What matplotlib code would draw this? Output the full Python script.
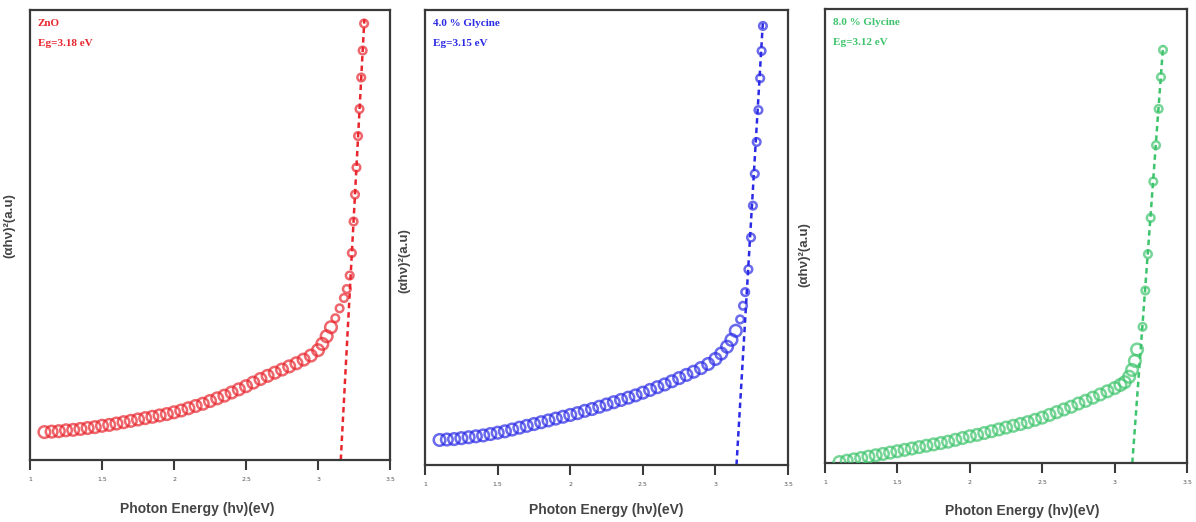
import matplotlib
matplotlib.use("Agg")
import matplotlib.pyplot as plt

# photon energy (eV) and (alpha h nu)^2 in arbitrary units (0..1 of the axis)
znO_x = [1.10, 1.15, 1.20, 1.25, 1.30, 1.35, 1.40, 1.45, 1.50, 1.55, 1.60, 1.65, 1.70,
         1.75, 1.80, 1.85, 1.90, 1.95, 2.00, 2.05, 2.10, 2.15, 2.20, 2.25, 2.30, 2.35,
         2.40, 2.45, 2.50, 2.55, 2.60, 2.65, 2.70, 2.75, 2.80, 2.85, 2.90, 2.95, 3.00,
         3.03, 3.06, 3.09, 3.12, 3.15, 3.18, 3.20, 3.22, 3.235, 3.247, 3.257, 3.267,
         3.278, 3.288, 3.30, 3.31, 3.32]
znO_y = [0.062, 0.063, 0.064, 0.066, 0.067, 0.069, 0.071, 0.073, 0.076, 0.078, 0.081,
         0.084, 0.087, 0.090, 0.093, 0.096, 0.099, 0.102, 0.106, 0.110, 0.115, 0.120,
         0.125, 0.131, 0.137, 0.143, 0.150, 0.157, 0.164, 0.172, 0.180, 0.187, 0.194,
         0.201, 0.208, 0.215, 0.223, 0.232, 0.244, 0.258, 0.275, 0.295, 0.315, 0.337,
         0.360, 0.380, 0.410, 0.460, 0.530, 0.590, 0.650, 0.720, 0.780, 0.850, 0.910,
         0.970]
znO_fit_x = [3.158, 3.322]
znO_fit_y = [0.0, 0.98]

gly4_x = [1.10, 1.15, 1.20, 1.25, 1.30, 1.35, 1.40, 1.45, 1.50, 1.55, 1.60, 1.65, 1.70,
          1.75, 1.80, 1.85, 1.90, 1.95, 2.00, 2.05, 2.10, 2.15, 2.20, 2.25, 2.30, 2.35,
          2.40, 2.45, 2.50, 2.55, 2.60, 2.65, 2.70, 2.75, 2.80, 2.85, 2.90, 2.95, 3.00,
          3.04, 3.08, 3.11, 3.14, 3.17, 3.19, 3.205, 3.227, 3.245, 3.258, 3.271, 3.284,
          3.296, 3.308, 3.318, 3.327]
gly4_y = [0.055, 0.056, 0.057, 0.059, 0.061, 0.063, 0.065, 0.068, 0.071, 0.074, 0.078,
          0.082, 0.086, 0.090, 0.094, 0.098, 0.102, 0.106, 0.110, 0.114, 0.119, 0.123,
          0.128, 0.133, 0.138, 0.143, 0.148, 0.153, 0.159, 0.165, 0.171, 0.177, 0.184,
          0.191, 0.198, 0.205, 0.213, 0.222, 0.233, 0.245, 0.260, 0.275, 0.295, 0.320,
          0.350, 0.380, 0.430, 0.500, 0.570, 0.640, 0.710, 0.780, 0.850, 0.910, 0.965]
gly4_fit_x = [3.145, 3.327]
gly4_fit_y = [0.0, 0.975]

gly8_x = [1.10, 1.15, 1.20, 1.25, 1.30, 1.35, 1.40, 1.45, 1.50, 1.55, 1.60, 1.65, 1.70,
          1.75, 1.80, 1.85, 1.90, 1.95, 2.00, 2.05, 2.10, 2.15, 2.20, 2.25, 2.30, 2.35,
          2.40, 2.45, 2.50, 2.55, 2.60, 2.65, 2.70, 2.75, 2.80, 2.85, 2.90, 2.95, 3.00,
          3.04, 3.07, 3.10, 3.12, 3.14, 3.155, 3.193, 3.212, 3.230, 3.249, 3.267, 3.286,
          3.304, 3.320, 3.334]
gly8_y = [0.002, 0.005, 0.008, 0.011, 0.014, 0.017, 0.020, 0.023, 0.026, 0.029, 0.032,
          0.035, 0.038, 0.041, 0.044, 0.047, 0.051, 0.055, 0.059, 0.062, 0.066, 0.070,
          0.074, 0.078, 0.082, 0.086, 0.090, 0.095, 0.100, 0.106, 0.112, 0.118, 0.124,
          0.131, 0.137, 0.144, 0.151, 0.158, 0.165, 0.172, 0.178, 0.190, 0.205, 0.225,
          0.250, 0.300, 0.380, 0.460, 0.540, 0.620, 0.700, 0.780, 0.850, 0.910]
gly8_fit_x = [3.122, 3.335]
gly8_fit_y = [0.0, 0.92]

xticks = [1, 1.5, 2, 2.5, 3, 3.5]
xtick_labels = ["1", "1.5", "2", "2.5", "3", "3.5"]

red = '#e8262e'
blue = '#2b2be6'
green = '#3ec46c'
dark = '#3a3a3a'

panels = [
    # data, fit, colour, notes, axes rect, xlabel pos, ylabel pos
    (znO_x, znO_y, znO_fit_x, znO_fit_y, red, "ZnO", "Eg=3.18 eV",
     [0.0251, 0.1188, 0.301, 0.862], (0.464, -0.094), (-0.042, 0.52)),
    (gly4_x, gly4_y, gly4_fit_x, gly4_fit_y, blue, "4.0 % Glycine", "Eg=3.15 eV",
     [0.3554, 0.1092, 0.3035, 0.8716], (0.50, -0.083), (-0.041, 0.45)),
    (gly8_x, gly8_y, gly8_fit_x, gly8_fit_y, green, "8.0 % Glycine", "Eg=3.12 eV",
     [0.6898, 0.1130, 0.3027, 0.8697], (0.544, -0.090), (-0.041, 0.46)),
]

fig = plt.figure(figsize=(11.96, 5.22), dpi=100)

for (x, y, fx, fy, col, name, eg, rect, xl, yl) in panels:
    ax = fig.add_axes(rect)
    # the slow part of the curve is a dense band of circles, the steep part sparse
    sizes = [70 if v < 0.3 else 30 for v in y]
    ax.scatter(x, y, s=sizes, facecolors='none', edgecolors=col, linewidths=1.8,
               alpha=0.7, zorder=3)
    ax.plot(fx, fy, color=col, lw=1.8, ls=(0, (2.2, 1.6)), zorder=2)
    ax.set_xlim(1, 3.5)
    ax.set_ylim(0, 1)
    ax.set_xticks(xticks)
    ax.set_xticklabels(xtick_labels)
    ax.set_yticks([])
    ax.tick_params(axis='x', direction='out', length=7, width=1.5, color=dark,
                   labelsize=4.5, labelcolor='#555555', pad=5)
    for sp in ax.spines.values():
        sp.set_color(dark)
        sp.set_linewidth(1.6)

    ax.text(0.022, 0.970, name, transform=ax.transAxes, color=col, fontsize=8,
            family='Liberation Serif', weight='bold', va='center', ha='left')
    ax.text(0.022, 0.926, eg, transform=ax.transAxes, color=col, fontsize=8,
            family='Liberation Serif', weight='bold', va='center', ha='left')

    ax.set_xlabel("Photon Energy (h\u03bd)(eV)", fontsize=10, weight='bold',
                  family='Liberation Sans', color='#444444')
    ax.xaxis.set_label_coords(*xl)
    ax.set_ylabel("(\u03b1h\u03bd)\u00b2(a.u)", fontsize=9.5, weight='bold',
                  family='Liberation Sans', color='#444444')
    ax.yaxis.set_label_coords(*yl)

fig.savefig("out.png", dpi=100, facecolor='white')
